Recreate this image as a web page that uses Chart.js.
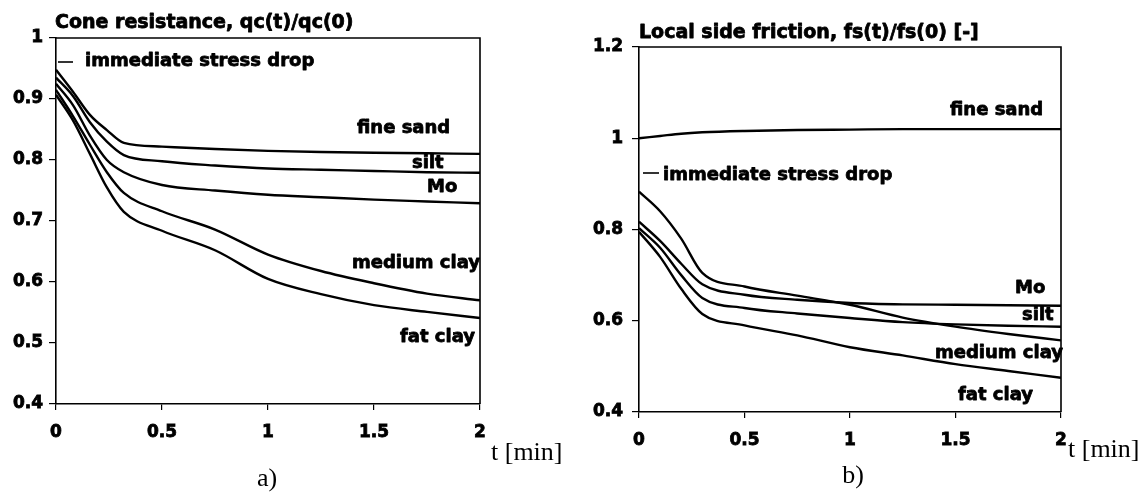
<!DOCTYPE html>
<html>
<head>
<meta charset="utf-8">
<script src="https://cdn.jsdelivr.net/npm/chart.js@4/dist/chart.umd.min.js"></script>
<style>
  html, body { margin: 0; padding: 0; background: #fff; }
  #wrap { position: relative; width: 1146px; height: 492px; }
  canvas { position: absolute; left: 0; top: 0; }
</style>
</head>
<body>
<div id="wrap">
  <canvas id="c1" width="1146" height="492"></canvas>
  <canvas id="c2" width="1146" height="492"></canvas>
</div>
<script>
// ---------- Data: chart a) Cone resistance qc(t)/qc(0) ----------
const tA = [0, 0.08, 0.16, 0.24, 0.32, 0.5, 0.75, 1, 1.25, 1.5, 1.75, 2];
const qcFineSand   = [0.948, 0.912, 0.874, 0.849, 0.828, 0.822, 0.818, 0.815, 0.813, 0.812, 0.811, 0.810];
const qcSilt       = [0.935, 0.905, 0.862, 0.830, 0.808, 0.798, 0.791, 0.786, 0.784, 0.782, 0.780, 0.779];
const qcMo         = [0.925, 0.890, 0.840, 0.800, 0.780, 0.759, 0.750, 0.743, 0.739, 0.735, 0.732, 0.729];
const qcMediumClay = [0.915, 0.872, 0.825, 0.780, 0.746, 0.716, 0.686, 0.645, 0.618, 0.598, 0.581, 0.570];
const qcFatClay    = [0.907, 0.865, 0.810, 0.755, 0.715, 0.684, 0.652, 0.605, 0.580, 0.562, 0.551, 0.541];

// ---------- Data: chart b) Local side friction fs(t)/fs(0) ----------
const tB = [0, 0.1, 0.2, 0.3, 0.5, 0.75, 1, 1.25, 1.5, 1.75, 2];
const fsFineSand   = [1.000, 1.005, 1.010, 1.013, 1.016, 1.018, 1.019, 1.020, 1.020, 1.020, 1.020];
const fsMo         = [0.817, 0.775, 0.725, 0.680, 0.657, 0.646, 0.639, 0.636, 0.635, 0.634, 0.633];
const fsSilt       = [0.803, 0.760, 0.700, 0.650, 0.628, 0.616, 0.606, 0.597, 0.592, 0.589, 0.587];
const fsMediumClay = [0.883, 0.840, 0.780, 0.705, 0.675, 0.655, 0.635, 0.607, 0.587, 0.571, 0.557];
const fsFatClay    = [0.795, 0.740, 0.670, 0.615, 0.590, 0.568, 0.542, 0.524, 0.505, 0.490, 0.475];

const xTicks = [0, 0.5, 1, 1.5, 2];
const xTickLabels = ['0', '0.5', '1', '1.5', '2'];
const yTicksA = [0.4, 0.5, 0.6, 0.7, 0.8, 0.9, 1];
const yTicksB = [0.4, 0.6, 0.8, 1, 1.2];

const titleA = 'Cone resistance, qc(t)/qc(0)';
const titleB = 'Local side friction, fs(t)/fs(0) [-]';
const xUnit = 't [min]';

const BOLD = 'bold 18px "DejaVu Sans", sans-serif';
const TICKFONT = { family: '"DejaVu Sans", sans-serif', size: 17, weight: 'bold' };

function series(ts, vs) { return ts.map((t, i) => ({ x: t, y: vs[i] })); }
function ds(ts, vs) {
  return { data: series(ts, vs), borderColor: '#000', borderWidth: 2.4, pointRadius: 0,
           fill: false, cubicInterpolationMode: 'monotone' };
}

function makeOptions(cfg) {
  return {
    responsive: false, animation: false, events: [],
    layout: { padding: cfg.padding },
    plugins: { legend: { display: false }, tooltip: { enabled: false }, title: { display: false } },
    scales: {
      x: {
        type: 'linear', min: 0, max: 2,
        afterBuildTicks: s => { s.ticks = xTicks.map(v => ({ value: v })); },
        afterFit: s => { s.height = cfg.xHeight; },
        ticks: { font: TICKFONT, color: '#000', padding: 12, maxRotation: 0,
                 textStrokeColor: '#000', textStrokeWidth: 0.8,
                 callback: (v) => xTickLabels[xTicks.indexOf(v)] },
        grid: { drawOnChartArea: false, drawTicks: true, tickLength: 6, color: '#000', lineWidth: 1.2 },
        border: { color: '#000', width: 1.6 }
      },
      y: {
        type: 'linear', min: cfg.yMin, max: cfg.yMax,
        afterBuildTicks: s => { s.ticks = cfg.yTicks.map(v => ({ value: v })); },
        afterFit: s => { s.width = cfg.yWidth; },
        ticks: { font: TICKFONT, color: '#000', padding: cfg.yPad,
                 textStrokeColor: '#000', textStrokeWidth: 0.8,
                 callback: (v) => String(v) },
        grid: { drawOnChartArea: false, drawTicks: true, tickLength: 7, color: '#000', lineWidth: 1.2 },
        border: { color: '#000', width: 1.6 }
      }
    }
  };
}

function heavyText(ctx, s, x, y) {
  ctx.fillText(s, x, y);
  ctx.strokeText(s, x, y);
}

function decoPlugin(cfg) {
  return {
    id: 'deco' + cfg.id,
    afterDraw(chart) {
      const ctx = chart.ctx, a = chart.chartArea;
      ctx.save();
      ctx.strokeStyle = '#000';
      ctx.lineWidth = 1.6;
      ctx.beginPath();
      ctx.moveTo(a.left, a.top); ctx.lineTo(a.right, a.top); ctx.lineTo(a.right, a.bottom);
      ctx.stroke();
      // immediate stress drop leader
      ctx.beginPath();
      ctx.moveTo(cfg.dash[0], cfg.dash[2]); ctx.lineTo(cfg.dash[1], cfg.dash[2]);
      ctx.stroke();
      // title
      ctx.fillStyle = '#000';
      ctx.textBaseline = 'middle';
      ctx.textAlign = 'left';
      ctx.lineWidth = 0.8;
      ctx.lineJoin = 'round';
      ctx.font = 'bold 19px "DejaVu Sans", sans-serif';
      heavyText(ctx, cfg.title, cfg.titleX, cfg.titleY);
      // curve labels
      ctx.font = BOLD;
      cfg.labels.forEach(l => heavyText(ctx, l[0], l[1], l[2]));
      // axis unit and panel letter
      ctx.font = '26px "Liberation Serif", "Times New Roman", serif';
      ctx.fillText(xUnit, cfg.unitX, cfg.unitY);
      ctx.textAlign = 'center';
      ctx.fillText(cfg.panel, cfg.panelX, cfg.panelY);
      ctx.restore();
    }
  };
}

const cfgA = {
  id: 'A', padding: { top: 38, left: 0, right: 1146 - 480, bottom: 0 },
  xHeight: 88, yWidth: 56, yPad: 6, yMin: 0.4, yMax: 1, yTicks: yTicksA,
  title: titleA, titleX: 55, titleY: 23,
  labels: [
    ['immediate stress drop', 85, 61],
    ['fine sand', 357, 128],
    ['silt', 412, 163],
    ['Mo', 427, 187],
    ['medium clay', 352, 263],
    ['fat clay', 400, 337]
  ],
  dash: [58, 73, 62],
  unitX: 491, unitY: 453, panel: 'a)', panelX: 267, panelY: 479
};

const cfgB = {
  id: 'B', padding: { top: 47, left: 639 - 66, right: 1146 - 1061, bottom: 0 },
  xHeight: 80, yWidth: 66, yPad: 9, yMin: 0.4, yMax: 1.2, yTicks: yTicksB,
  title: titleB, titleX: 639, titleY: 33,
  labels: [
    ['fine sand', 950, 110],
    ['immediate stress drop', 663, 175],
    ['Mo', 1015, 288],
    ['silt', 1022, 315],
    ['medium clay', 935, 353],
    ['fat clay', 958, 395]
  ],
  dash: [643, 659, 173],
  unitX: 1068, unitY: 450, panel: 'b)', panelX: 853, panelY: 476
};

new Chart(document.getElementById('c1'), {
  type: 'line',
  data: { datasets: [ds(tA, qcFineSand), ds(tA, qcSilt), ds(tA, qcMo), ds(tA, qcMediumClay), ds(tA, qcFatClay)] },
  options: makeOptions(cfgA),
  plugins: [decoPlugin(cfgA)]
});

new Chart(document.getElementById('c2'), {
  type: 'line',
  data: { datasets: [ds(tB, fsFineSand), ds(tB, fsMo), ds(tB, fsSilt), ds(tB, fsMediumClay), ds(tB, fsFatClay)] },
  options: makeOptions(cfgB),
  plugins: [decoPlugin(cfgB)]
});
</script>
</body>
</html>
